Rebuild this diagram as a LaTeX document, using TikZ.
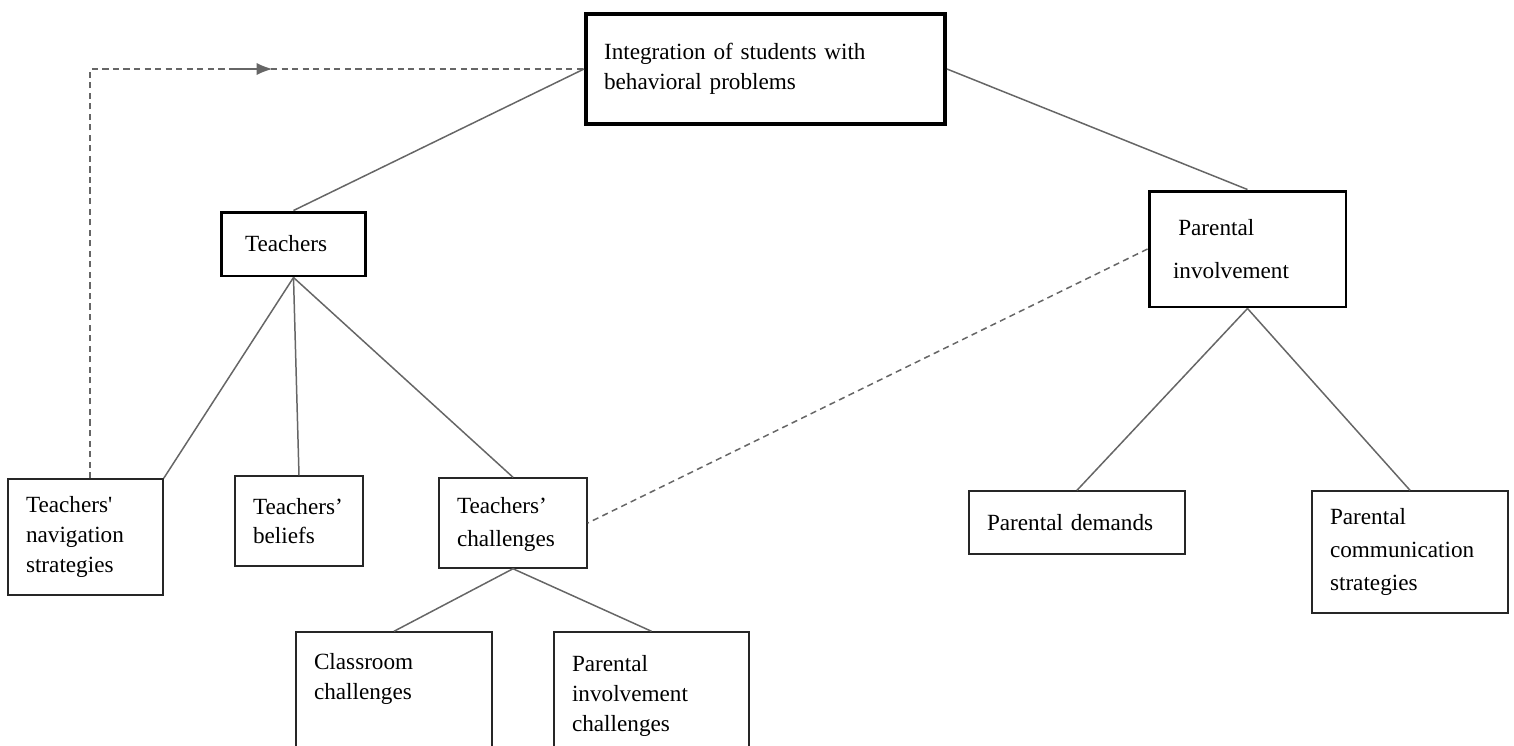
\documentclass[tikz,border=0pt]{standalone}
\usepackage{fontspec}
\setmainfont{Liberation Serif}
\usepackage{tikz}
\usetikzlibrary{arrows,arrows.meta}
\usetikzlibrary{calc,decorations.markings}
\definecolor{linegray}{rgb}{0.40,0.40,0.40}
\definecolor{boxgray}{rgb}{0.15,0.15,0.15}
\tikzset{
  box/.style={draw=boxgray,line width=0.85pt,align=left,inner xsep=0.36cm,inner ysep=0pt,
    font=\fontsize{13.2}{17}\selectfont},
  mainbox/.style={box,draw=black,line width=2.3pt},
  headbox/.style={box,draw=black,line width=1.7pt,inner xsep=0.48cm},
  link/.style={draw=linegray,line width=0.85pt},
  dashlink/.style={draw=linegray,line width=0.85pt,dash pattern=on 3.5pt off 2.5pt}
}
\begin{document}
\begin{tikzpicture}[>=latex,x=0.02cm,y=-0.02cm]
			\useasboundingbox (0,0) rectangle (1514,745);
			% Draw the boxes
			\node[mainbox,minimum width=7.18cm,minimum height=2.2cm,text width=6.46cm] (integration) at (765.5,69)
				{Integration of students with\\behavioral problems\\[6pt]};
			\node[headbox,minimum width=2.9cm,minimum height=1.28cm,text width=1.94cm] (teachers) at (293.5,244) {Teachers};
			\node[headbox,minimum width=3.94cm,minimum height=2.32cm,text width=2.98cm] (parinv) at (1247.5,249)
				{\hspace*{3pt}Parental\\[7pt]involvement};
			\node[box,minimum width=3.1cm,minimum height=2.32cm,text width=2.38cm] (navigation) at (85.5,537)
				{Teachers{\textquotesingle}\\navigation\\strategies};
			\node[box,minimum width=2.56cm,minimum height=1.8cm,text width=1.84cm] (beliefs) at (299,521)
				{Teachers’\\beliefs};
			\node[box,minimum width=2.96cm,minimum height=1.8cm,text width=2.24cm] (challenges) at (513,523)
				{\\[-6pt]Teachers’\\[2pt]challenges};
			\node[box,minimum width=3.92cm,minimum height=2.56cm,text width=3.2cm] (classroom) at (394,696)
				{Classroom\\challenges\\\strut};
			\node[box,minimum width=3.9cm,minimum height=2.56cm,text width=3.18cm] (parchall) at (651.5,696)
				{Parental\\involvement\\challenges};
			\node[box,minimum width=4.32cm,minimum height=1.26cm,text width=3.6cm] (demands) at (1077,522.5)
				{Parental demands};
			\node[box,minimum width=3.92cm,minimum height=2.44cm,text width=3.2cm] (communication) at (1410,552)
				{Parental\\[2pt]communication\\[2pt]strategies};

			% Draw the tree links
			\draw[link] (integration.west) -- (teachers.north);
			\draw[link] (integration.east) -- (parinv.north);
			\draw[link] (teachers.south) -- (navigation.north east);
			\draw[link] (teachers.south) -- (beliefs.north);
			\draw[link] (teachers.south) -- (challenges.north);
			\draw[link] (challenges.south) -- (classroom.north);
			\draw[link] (challenges.south) -- (parchall.north);
			\draw[link] (parinv.south) -- (demands.north);
			\draw[link] (parinv.south) -- (communication.north);

			% Draw the dashed links
			\draw[dashlink] (parinv.west) -- (challenges.east);
			\draw[dashlink,decoration={markings,mark=at position 0.655 with
				{\draw[linegray,solid,line width=0.85pt] (-24pt,0) -- (-6pt,0);
				 \arrow[linegray]{Latex[length=9pt,width=7pt]}}},postaction={decorate}]
				($(navigation.north)+(4.5,0)$) |- (integration.west);
		\end{tikzpicture}
\end{document}
